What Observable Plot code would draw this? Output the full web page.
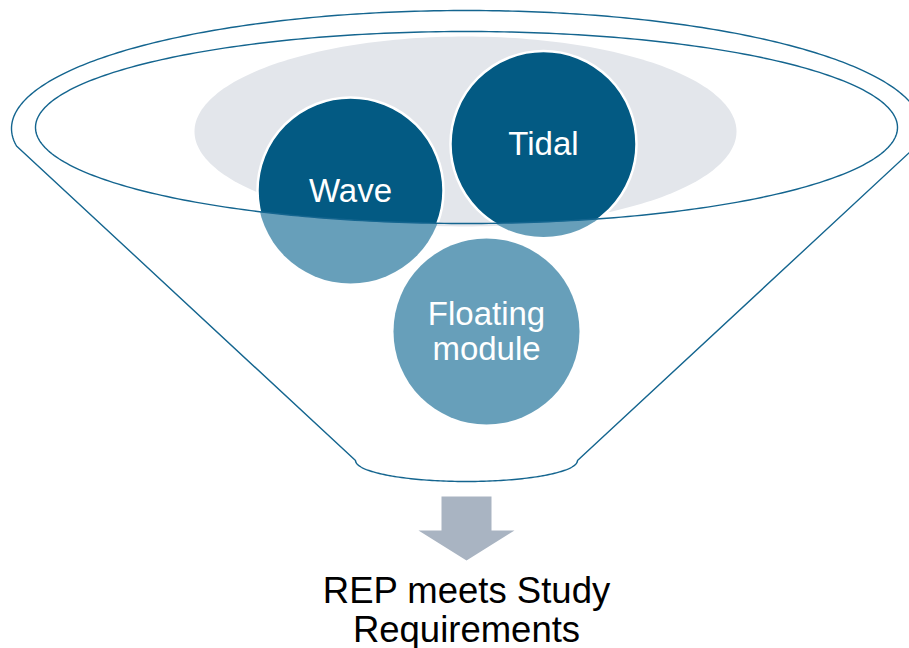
<!DOCTYPE html>
<html>
<head>
<meta charset="utf-8">
<script src="https://cdn.jsdelivr.net/npm/d3@7"></script>
<script src="https://cdn.jsdelivr.net/npm/@observablehq/plot@0.6"></script>
<style>
  body { margin: 0; background: #fff; }
  #chart svg { display: block; }
</style>
</head>
<body>
<div id="chart"></div>
<script>
// Inputs that feed the funnel, and what comes out of it
const sources = ["Wave", "Tidal", "Floating\nmodule"];
const outcome = ["REP meets Study\nRequirements"];

// Layout (pixel space of the 909×648 canvas)
const W = 909, H = 648;
const nodeX = [350, 543, 486];
const nodeY = [190, 143.5, 331];
const nodeR = 93;
const rimOuter = {cx: 466, cy: 128, rx: 455, ry: 118};
const rimInner = {cx: 466, cy: 127, rx: 431, ry: 96};
const basin    = {cx: 465, cy: 131, rx: 271, ry: 95};
const spout    = {cx: 466, cy: 460, rx: 111, ry: 21};
const arrow    = {x0: 441, x1: 491, top: 496, neck: 530, head0: 418, head1: 514, tip: 560};

// Colours
const dark = "#035a83", light = "#679fba", haze = "#e3e6eb", edge = "#14658f", arrowFill = "#a9b4c2";
const font = "'Liberation Sans', Arial, Helvetica, sans-serif";

// Points along an ellipse between two angles (degrees; y grows downward)
function arc(e, t0, t1, n = 240) {
  const pts = [];
  for (let k = 0; k <= n; k++) {
    const t = (t0 + (t1 - t0) * k / n) * Math.PI / 180;
    pts.push({x: e.cx + e.rx * Math.cos(t), y: e.cy + e.ry * Math.sin(t)});
  }
  return pts;
}

// Funnel body: top of the outer rim, down the right wall, along the spout, up the left wall
const tEdge = Math.acos((16 - rimOuter.cx) / rimOuter.rx) * 180 / Math.PI; // lower-left meeting angle
const funnel = [
  ...arc(rimOuter, tEdge, 360 + (180 - tEdge)),
  ...arc(spout, 0, 180, 120)
];

const arrowShape = [
  {x: arrow.x0, y: arrow.top}, {x: arrow.x1, y: arrow.top}, {x: arrow.x1, y: arrow.neck},
  {x: arrow.head1, y: arrow.neck}, {x: (arrow.x0 + arrow.x1) / 2, y: arrow.tip},
  {x: arrow.head0, y: arrow.neck}, {x: arrow.x0, y: arrow.neck}
];

const nodes = sources.map((label, i) => ({label, x: nodeX[i], y: nodeY[i]}));

const chart = Plot.plot({
  width: W,
  height: H,
  margin: 0,
  x: {domain: [0, W], axis: null},
  y: {domain: [0, H], reverse: true, axis: null},
  r: {type: "identity"},
  style: {background: "#fff", fontFamily: font},
  marks: [
    Plot.line(arc(basin, 0, 360), {x: "x", y: "y", curve: "linear-closed", fill: haze, stroke: "none"}),
    // lower (outside the mouth) tint of each circle
    Plot.dot(nodes, {x: "x", y: "y", r: nodeR, fill: light, stroke: "none"}),
    // darker tint inside the mouth, clipped below
    Plot.dot(nodes, {x: "x", y: "y", r: nodeR, fill: dark, stroke: "#fff", strokeWidth: 2.5}),
    Plot.line(arc(rimInner, 0, 360, 360), {x: "x", y: "y", curve: "linear-closed", stroke: edge, strokeWidth: 1.4}),
    Plot.line(funnel, {x: "x", y: "y", curve: "linear-closed", stroke: edge, strokeWidth: 1.4}),
    Plot.line(arrowShape, {x: "x", y: "y", curve: "linear-closed", fill: arrowFill, stroke: "none"}),
    Plot.text(nodes, {x: "x", y: "y", text: "label", fill: "#fff", fontSize: 33, lineHeight: 1.06, fontFamily: font}),
    Plot.text(outcome, {x: () => 466, y: () => 641, text: d => d, lineAnchor: "bottom", fill: "#000",
      fontSize: 36.5, lineHeight: 1.055, fontFamily: font})
  ]
});

// The dark tint shows only inside the funnel mouth (inner rim)
const sx = chart.scale("x"), sy = chart.scale("y");
const svg = d3.select(chart);
const defs = svg.insert("defs", ":first-child");
defs.append("clipPath").attr("id", "mouth-clip")
  .append("ellipse")
  .attr("cx", sx.apply(rimInner.cx)).attr("cy", sy.apply(rimInner.cy))
  .attr("rx", Math.abs(sx.apply(rimInner.cx + rimInner.rx) - sx.apply(rimInner.cx)))
  .attr("ry", Math.abs(sy.apply(rimInner.cy + rimInner.ry) - sy.apply(rimInner.cy)));
const dotLayers = svg.selectAll('g[aria-label="dot"]').nodes();
d3.select(dotLayers[dotLayers.length - 1]).attr("clip-path", "url(#mouth-clip)");

document.getElementById("chart").appendChild(chart);
</script>
</body>
</html>
